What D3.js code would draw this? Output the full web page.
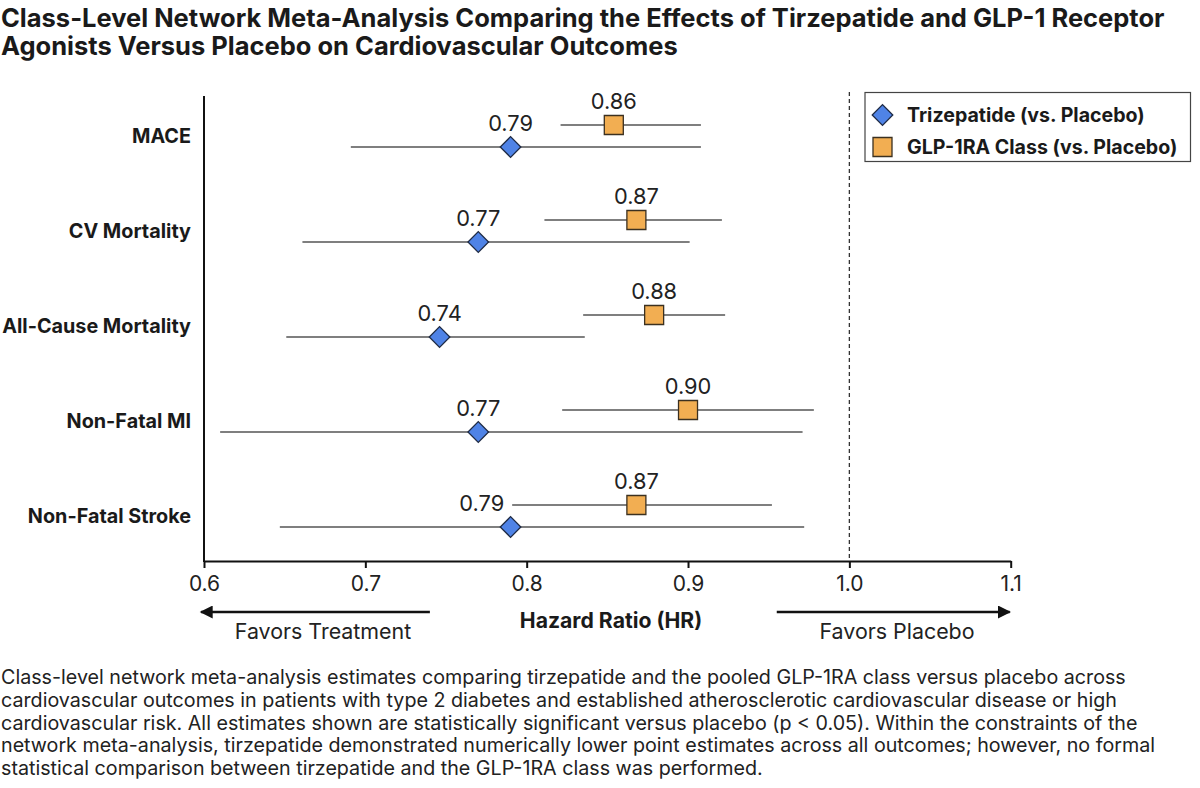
<!DOCTYPE html>
<html lang="en">
<head>
<meta charset="utf-8">
<title>Tirzepatide vs GLP-1RA network meta-analysis</title>
<script src="https://cdn.jsdelivr.net/npm/d3@7"></script>
<style>
  body { margin: 0; background: #fff; }
  text { font-family: Inter, "Noto Sans", sans-serif; fill: #1a1a1a; }
  .title { font-size: 25.5px; font-weight: 700; }
  .cat { font-size: 19.8px; font-weight: 700; }
  .tick text { font-size: 21px; fill: #222; }
  .val { font-size: 21.8px; fill: #222; }
  .leg { font-size: 19.6px; font-weight: 700; }
  .axtitle { font-size: 21.2px; font-weight: 700; }
  .favors { font-size: 21.4px; fill: #222; }
  .note { font-size: 19.7px; fill: #222; }
</style>
</head>
<body>
<div id="chart"></div>
<script>

// DATA
var categories = ["MACE", "CV Mortality", "All-Cause Mortality", "Non-Fatal MI", "Non-Fatal Stroke"];
var tirzHR  = [0.790, 0.770, 0.746, 0.770, 0.790];
var tirzLo  = [0.691, 0.661, 0.651, 0.610, 0.647];
var tirzHi  = [0.908, 0.901, 0.836, 0.971, 0.972];
var tirzLabel = ["0.79", "0.77", "0.74", "0.77", "0.79"];
var glpHR   = [0.854, 0.868, 0.879, 0.900, 0.868];
var glpLo   = [0.821, 0.811, 0.835, 0.822, 0.791];
var glpHi   = [0.908, 0.921, 0.923, 0.978, 0.952];
var glpLabel = ["0.86", "0.87", "0.88", "0.90", "0.87"];
var xTicks = [0.6, 0.7, 0.8, 0.9, 1.0, 1.1];
var seriesNames = ["Trizepatide (vs. Placebo)", "GLP-1RA Class (vs. Placebo)"];

var titleLines = [
  "Class-Level Network Meta-Analysis Comparing the Effects of Tirzepatide and GLP-1 Receptor",
  "Agonists Versus Placebo on Cardiovascular Outcomes"
];
var noteLines = [
  "Class-level network meta-analysis estimates comparing tirzepatide and the pooled GLP-1RA class versus placebo across",
  "cardiovascular outcomes in patients with type 2 diabetes and established atherosclerotic cardiovascular disease or high",
  "cardiovascular risk. All estimates shown are statistically significant versus placebo (p < 0.05). Within the constraints of the",
  "network meta-analysis, tirzepatide demonstrated numerically lower point estimates across all outcomes; however, no formal",
  "statistical comparison between tirzepatide and the GLP-1RA class was performed."
];

var w = 1200, h = 788;
var blue = "#4f83e6", orange = "#f2ae52";

var svg = d3.select("#chart").append("svg")
  .attr("width", w).attr("height", h)
  .attr("viewBox", "0 0 " + w + " " + h);

// TITLE
svg.append("g").selectAll("text")
  .data(titleLines).enter().append("text")
  .attr("class", "title")
  .attr("x", 1)
  .attr("y", function(d, i) { return 27 + i * 28; })
  .text(function(d) { return d; });

// SCALES
var plotTop = 94, plotBottom = 561;
var x = d3.scaleLinear().domain([0.6, 1.1]).range([204, 1010.7]);
var y = d3.scalePoint().domain(d3.range(categories.length)).range([136, 516]);
var off = 11; // vertical offset of the two series inside a row

// reference line at HR = 1
svg.append("line")
  .attr("x1", x(1)).attr("x2", x(1))
  .attr("y1", plotTop - 2).attr("y2", plotBottom)
  .attr("stroke", "#333").attr("stroke-width", 1.3)
  .attr("stroke-dasharray", "4,3");

// AXES
var xAxis = svg.append("g")
  .attr("transform", "translate(0," + plotBottom + ")")
  .call(d3.axisBottom(x).tickValues(xTicks).tickFormat(d3.format(".1f")).tickSize(7).tickSizeOuter(0).tickPadding(8));
xAxis.select(".domain").attr("stroke", "#111").attr("stroke-width", 2);
xAxis.selectAll(".tick line").attr("stroke", "#111").attr("stroke-width", 2);
xAxis.selectAll(".tick text").attr("font-family", null).attr("font-size", null);
xAxis.attr("font-family", null).attr("font-size", null);

svg.append("line")
  .attr("x1", x(0.6)).attr("x2", x(0.6))
  .attr("y1", plotTop + 2).attr("y2", plotBottom + 1)
  .attr("stroke", "#111").attr("stroke-width", 2);

// category labels
svg.append("g").selectAll("text")
  .data(categories).enter().append("text")
  .attr("class", "cat")
  .attr("x", 191)
  .attr("y", function(d, i) { return y(i); })
  .attr("text-anchor", "end")
  .attr("dominant-baseline", "central")
  .text(function(d) { return d; });

// CONFIDENCE INTERVALS
var rows = categories.map(function(c, i) {
  return { i: i, tHR: tirzHR[i], tLo: tirzLo[i], tHi: tirzHi[i], tLab: tirzLabel[i],
           gHR: glpHR[i], gLo: glpLo[i], gHi: glpHi[i], gLab: glpLabel[i] };
});

var marks = svg.append("g");
marks.selectAll(".ci-glp").data(rows).enter().append("line")
  .attr("x1", function(d) { return x(d.gLo); })
  .attr("x2", function(d) { return x(d.gHi); })
  .attr("y1", function(d) { return y(d.i) - off; })
  .attr("y2", function(d) { return y(d.i) - off; })
  .attr("stroke", "#555").attr("stroke-width", 1.6);
marks.selectAll(".ci-tirz").data(rows).enter().append("line")
  .attr("x1", function(d) { return x(d.tLo); })
  .attr("x2", function(d) { return x(d.tHi); })
  .attr("y1", function(d) { return y(d.i) + off; })
  .attr("y2", function(d) { return y(d.i) + off; })
  .attr("stroke", "#555").attr("stroke-width", 1.6);

// POINTS
var diamond = d3.symbol().type(d3.symbolSquare).size(212);
var square = d3.symbol().type(d3.symbolSquare).size(361);

marks.selectAll(".pt-glp").data(rows).enter().append("path")
  .attr("d", square)
  .attr("transform", function(d) { return "translate(" + x(d.gHR) + "," + (y(d.i) - off) + ")"; })
  .attr("fill", orange).attr("stroke", "#3b3020").attr("stroke-width", 1.3);
marks.selectAll(".pt-tirz").data(rows).enter().append("path")
  .attr("d", diamond)
  .attr("transform", function(d) { return "translate(" + x(d.tHR) + "," + (y(d.i) + off) + ") rotate(45)"; })
  .attr("fill", blue).attr("stroke", "#1e2a44").attr("stroke-width", 1.3);

// VALUE LABELS
var lift = 24.5;
marks.selectAll(".lab-glp").data(rows).enter().append("text")
  .attr("class", "val")
  .attr("x", function(d) { return x(d.gHR); })
  .attr("y", function(d) { return y(d.i) - off - lift; })
  .attr("text-anchor", "middle")
  .attr("dominant-baseline", "central")
  .text(function(d) { return d.gLab; });
marks.selectAll(".lab-tirz").data(rows).enter().append("text")
  .attr("class", "val")
  .attr("x", function(d) { return x(d.tHR); })
  .attr("y", function(d) { return y(d.i) + off - lift; })
  .attr("text-anchor", "middle")
  .attr("dominant-baseline", "central")
  .text(function(d) { return d.tLab; })
  .each(function(d) {
    // slide the label left when it would sit on the GLP-1RA interval line
    var half = this.getComputedTextLength() / 2;
    if (x(d.tHR) + half > x(d.gLo) - 4) {
      d3.select(this).attr("text-anchor", "end").attr("x", x(d.gLo) - 8);
    }
  });

// LEGEND
var leg = svg.append("g").attr("transform", "translate(865,92.5)");
leg.append("rect").attr("width", 325.5).attr("height", 69)
  .attr("fill", "#fff").attr("stroke", "#444").attr("stroke-width", 1.2);
leg.append("path").attr("d", diamond)
  .attr("transform", "translate(17.5,22.5) rotate(45)")
  .attr("fill", blue).attr("stroke", "#1e2a44").attr("stroke-width", 1.3);
leg.append("path").attr("d", square)
  .attr("transform", "translate(17.5,54.5)")
  .attr("fill", orange).attr("stroke", "#3b3020").attr("stroke-width", 1.3);
leg.selectAll(".leg").data(seriesNames).enter().append("text")
  .attr("class", "leg")
  .attr("x", 42)
  .attr("y", function(d, i) { return 22.5 + i * 32; })
  .attr("dominant-baseline", "central")
  .text(function(d) { return d; });

// AXIS TITLE & DIRECTION ARROWS
var defs = svg.append("defs");
defs.append("marker").attr("id", "head")
  .attr("viewBox", "0 0 10 10").attr("refX", 9).attr("refY", 5)
  .attr("markerWidth", 6).attr("markerHeight", 5).attr("orient", "auto-start-reverse")
  .attr("markerUnits", "strokeWidth")
  .append("path").attr("d", "M0,0 L10,5 L0,10 Z").attr("fill", "#111");

var arrowY = 612;
svg.append("line")
  .attr("x1", x(0.74)).attr("x2", x(0.6) - 3)
  .attr("y1", arrowY).attr("y2", arrowY)
  .attr("stroke", "#111").attr("stroke-width", 2.6)
  .attr("marker-end", "url(#head)");
svg.append("line")
  .attr("x1", x(0.955)).attr("x2", x(1.1) - 1)
  .attr("y1", arrowY).attr("y2", arrowY)
  .attr("stroke", "#111").attr("stroke-width", 2.6)
  .attr("marker-end", "url(#head)");

svg.append("text").attr("class", "axtitle")
  .attr("x", 611).attr("y", 620)
  .attr("text-anchor", "middle").attr("dominant-baseline", "central")
  .text("Hazard Ratio (HR)");
svg.append("text").attr("class", "favors")
  .attr("x", 323).attr("y", 631)
  .attr("text-anchor", "middle").attr("dominant-baseline", "central")
  .text("Favors Treatment");
svg.append("text").attr("class", "favors")
  .attr("x", 897).attr("y", 631)
  .attr("text-anchor", "middle").attr("dominant-baseline", "central")
  .text("Favors Placebo");

// FOOTNOTE
svg.append("g").selectAll("text")
  .data(noteLines).enter().append("text")
  .attr("class", "note")
  .attr("x", 1)
  .attr("y", function(d, i) { return 677 + i * 22.8; })
  .attr("dominant-baseline", "central")
  .text(function(d) { return d; });

</script>
</body>
</html>
